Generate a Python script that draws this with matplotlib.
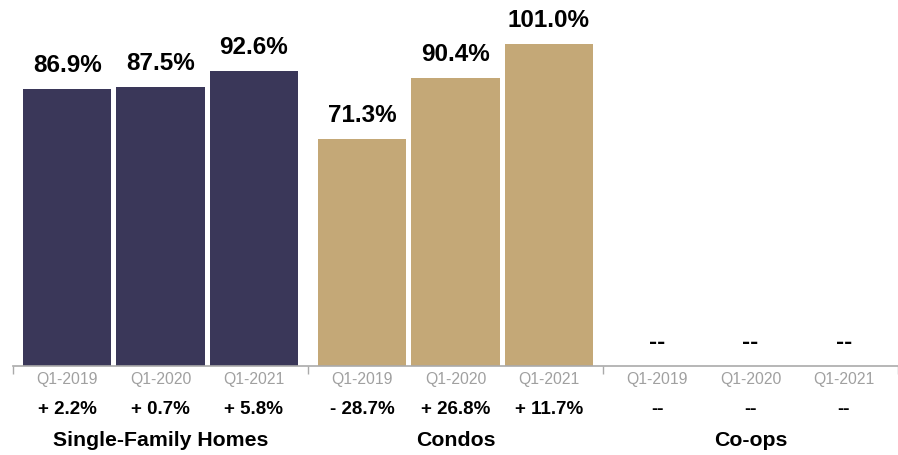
import matplotlib.pyplot as plt

plt.rcParams['font.family'] = ['Liberation Sans', 'DejaVu Sans']

groups = ['Single-Family Homes', 'Condos', 'Co-ops']
quarters = ['Q1-2019', 'Q1-2020', 'Q1-2021']
values = [
    [86.9, 87.5, 92.6],
    [71.3, 90.4, 101.0],
    [None, None, None],
]
changes = [
    ['+ 2.2%', '+ 0.7%', '+ 5.8%'],
    ['- 28.7%', '+ 26.8%', '+ 11.7%'],
    ['--', '--', '--'],
]
colors = ['#3a3759', '#c4a877', '#c4a877']

fig = plt.figure(figsize=(8.98, 4.55), dpi=100)
ax = fig.add_axes([13 / 898, 89 / 455, 885 / 898, 366 / 455])

# one x unit = one property type; bars sit 94px apart inside a 297.5px group
step = 94 / 297.5
width = 89 / 297.5
for g, grp in enumerate(groups):
    for i, q in enumerate(quarters):
        x = g + 0.5 + (i - 1) * step
        v = values[g][i]
        if v is not None:
            ax.bar(x, v, width=width, color=colors[g])
            label = f'{v:.1f}%'
        else:
            v = 0
            label = '--'
        ax.annotate(label, (x, v), xytext=(0, 12.5), textcoords='offset points',
                    ha='center', va='baseline', fontsize=17.5, fontweight='bold')
        ax.annotate(q, (x, 0), xytext=(0, -10), textcoords='offset points',
                    ha='center', va='center', fontsize=11.3, color='#a0a0a0')
        ax.annotate(changes[g][i], (x, 0), xytext=(0, -31), textcoords='offset points',
                    ha='center', va='center', fontsize=13.5, fontweight='bold')
    ax.annotate(grp, (g + 0.5, 0), xytext=(0, -54), textcoords='offset points',
                ha='center', va='center', fontsize=15.3, fontweight='bold')

ax.set_xlim(0, 885 / 297.5)
ax.set_ylim(0, 366 / 3.185)
for s in ['top', 'right', 'left']:
    ax.spines[s].set_visible(False)
ax.spines['bottom'].set_color('#aaaaaa')
ax.spines['bottom'].set_linewidth(1.2)
ax.set_yticks([])
ax.set_xticks([0, 1, 2, 3])
ax.set_xticklabels([])
ax.tick_params(axis='x', length=5.5, width=1, color='#aaaaaa', direction='out')

fig.savefig('out.png', dpi=100)
